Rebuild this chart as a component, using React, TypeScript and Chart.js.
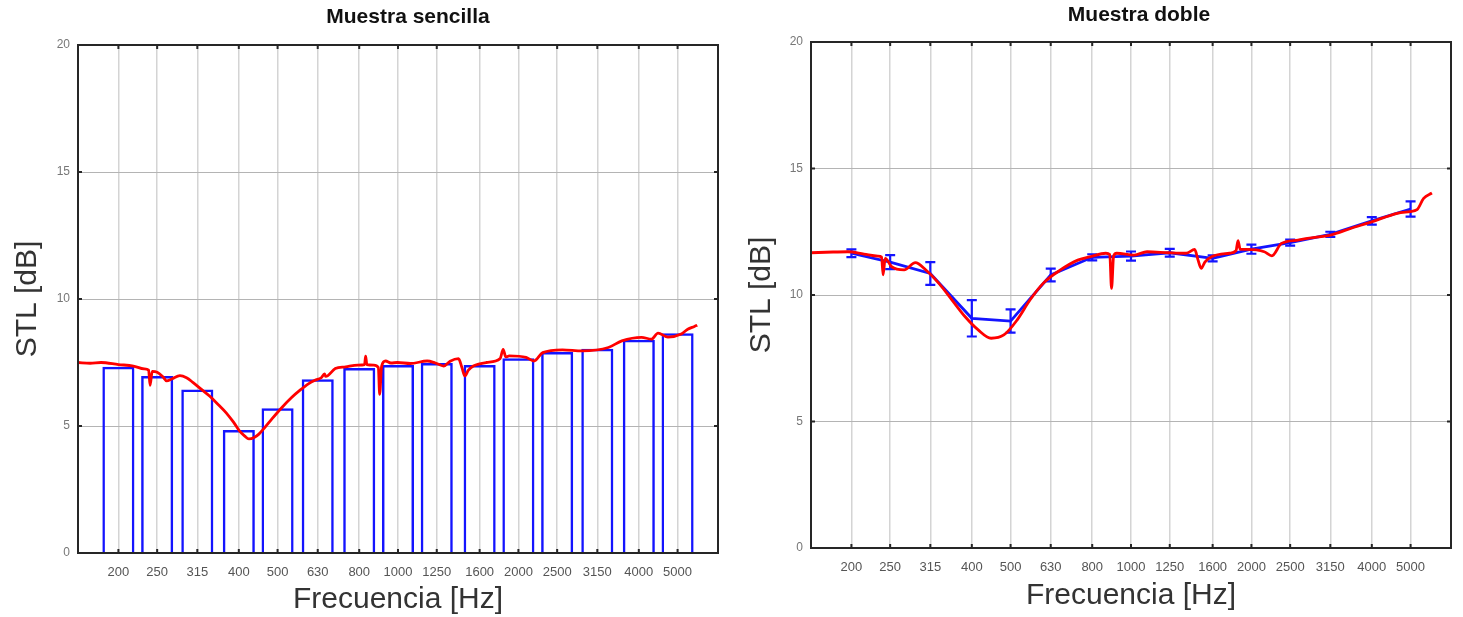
import React, { useEffect, useRef } from 'react';
import { Chart, registerables } from 'chart.js';

Chart.register(...registerables);

// ---------- data ----------
const bandFreqs = [200, 250, 315, 400, 500, 630, 800, 1000, 1250, 1600, 2000, 2500, 3150, 4000, 5000];
const tickLabels = ['200', '250', '315', '400', '500', '630', '800', '1000', '1250', '1600', '2000', '2500', '3150', '4000', '5000'];
const yTickValues = [0, 5, 10, 15, 20];
const freqMin = 158.5;
const freqMax = 6310;

// Muestra sencilla: third-octave band bars
const singleBands = [7.33, 6.97, 6.44, 4.84, 5.70, 6.84, 7.28, 7.40, 7.48, 7.40, 7.67, 7.91, 8.04, 8.40, 8.65];

// Muestra sencilla: narrow-band curve
const singleCurveFreq = [158.5, 170, 181, 200, 218, 232, 238, 240, 243, 250, 258, 264, 272, 285, 296, 307, 322, 338, 355, 372, 388, 401, 414, 424, 437, 449, 465, 484, 512, 542, 570, 597, 620, 643, 655, 660, 697, 740, 794, 825, 830, 836, 870, 893, 900, 910, 931, 960, 997, 1074, 1183, 1240, 1301, 1350, 1417, 1445, 1469, 1500, 1543, 1665, 1800, 1832, 1860, 1897, 2090, 2188, 2301, 2577, 2888, 3357, 3627, 4064, 4304, 4468, 4730, 5107, 5301, 5508, 5600];
const singleCurveStl = [7.50, 7.47, 7.50, 7.42, 7.36, 7.25, 7.20, 6.60, 7.15, 7.12, 6.95, 6.78, 6.85, 6.98, 6.90, 6.72, 6.45, 6.18, 5.85, 5.52, 5.15, 4.82, 4.60, 4.49, 4.55, 4.68, 4.95, 5.28, 5.72, 6.12, 6.42, 6.66, 6.80, 6.90, 7.05, 6.95, 7.26, 7.33, 7.40, 7.42, 7.75, 7.42, 7.40, 7.30, 6.25, 7.35, 7.56, 7.48, 7.50, 7.46, 7.56, 7.48, 7.36, 7.55, 7.65, 7.30, 6.97, 7.20, 7.36, 7.50, 7.65, 8.02, 7.72, 7.76, 7.70, 7.56, 7.89, 8.00, 7.96, 8.09, 8.35, 8.49, 8.42, 8.66, 8.50, 8.62, 8.81, 8.92, 8.97];

// Muestra doble: band means with error bars
const doubleMean = [11.65, 11.30, 10.85, 9.08, 8.97, 10.79, 11.49, 11.54, 11.67, 11.45, 11.81, 12.07, 12.40, 12.93, 13.40];
const doubleErr = [0.15, 0.28, 0.45, 0.72, 0.46, 0.25, 0.12, 0.18, 0.15, 0.12, 0.18, 0.12, 0.10, 0.15, 0.30];

// Muestra doble: narrow-band curve
const doubleCurveFreq = [158.5, 180, 196, 215, 233, 238, 240, 243, 252, 271, 289, 307, 331, 357, 385, 415, 447, 481, 519, 559, 603, 666, 736, 793, 865, 885, 894, 905, 921, 1018, 1097, 1243, 1374, 1443, 1470, 1498, 1530, 1595, 1762, 1830, 1852, 1875, 1947, 2153, 2250, 2378, 2616, 2762, 3157, 3542, 4013, 4630, 4987, 5190, 5390, 5654];
const doubleCurveStl = [11.67, 11.70, 11.71, 11.62, 11.54, 11.50, 10.80, 11.45, 11.12, 10.99, 11.28, 10.99, 10.46, 9.80, 9.14, 8.62, 8.29, 8.42, 9.01, 9.80, 10.46, 10.99, 11.38, 11.52, 11.65, 11.60, 10.26, 11.55, 11.65, 11.58, 11.71, 11.67, 11.65, 11.80, 11.40, 11.05, 11.30, 11.52, 11.65, 11.75, 12.15, 11.80, 11.80, 11.71, 11.55, 12.04, 12.17, 12.24, 12.37, 12.63, 12.90, 13.23, 13.30, 13.37, 13.82, 14.03];

// ---------- styling ----------
const FONT = '"Liberation Sans", Arial, Helvetica, sans-serif';
const RED = '#ff0000';
const BLUE = '#1414ff';

const framePlugin = {
  id: 'frame',
  afterDraw(chart: any, _args: any, opts: any) {
    const { ctx, chartArea: a, scales } = chart;
    ctx.save();
    ctx.strokeStyle = '#262626';
    ctx.lineWidth = 2;
    ctx.strokeRect(a.left, a.top, a.right - a.left, a.bottom - a.top);
    const tl = 4;
    ctx.beginPath();
    scales.x.ticks.forEach((t: any) => {
      const px = scales.x.getPixelForValue(t.value);
      ctx.moveTo(px, a.top); ctx.lineTo(px, a.top + tl);
      ctx.moveTo(px, a.bottom); ctx.lineTo(px, a.bottom - tl);
    });
    scales.y.ticks.forEach((t: any) => {
      const py = scales.y.getPixelForValue(t.value);
      ctx.moveTo(a.left, py); ctx.lineTo(a.left + tl, py);
      ctx.moveTo(a.right, py); ctx.lineTo(a.right - tl, py);
    });
    ctx.stroke();
    ctx.fillStyle = '#111';
    ctx.font = 'bold 21px ' + FONT;
    ctx.textAlign = 'center';
    ctx.textBaseline = 'middle';
    ctx.fillText(opts.text, opts.x, opts.y);
    ctx.restore();
  },
};

const errorBarPlugin = {
  id: 'errbars',
  afterDatasetDraw(chart: any, args: any, opts: any) {
    if (!opts || opts.datasetIndex !== args.index) return;
    const { ctx, scales } = chart;
    ctx.save();
    ctx.strokeStyle = BLUE;
    ctx.lineWidth = 2.2;
    ctx.beginPath();
    opts.x.forEach((f: number, i: number) => {
      const px = scales.x.getPixelForValue(f);
      const lo = scales.y.getPixelForValue(opts.y[i] - opts.err[i]);
      const hi = scales.y.getPixelForValue(opts.y[i] + opts.err[i]);
      ctx.moveTo(px, lo); ctx.lineTo(px, hi);
      ctx.moveTo(px - 5, lo); ctx.lineTo(px + 5, lo);
      ctx.moveTo(px - 5, hi); ctx.lineTo(px + 5, hi);
    });
    ctx.stroke();
    ctx.restore();
  },
};

function makeScales(yWidth: number, xHeight: number, yTitlePad: number, xTitlePad: number) {
  return {
    x: {
      type: 'logarithmic',
      min: freqMin,
      max: freqMax,
      offset: false,
      afterBuildTicks: (s: any) => { s.ticks = bandFreqs.map((v) => ({ value: v })); },
      afterFit: (s: any) => { s.height = xHeight; },
      grid: { color: '#d4d4d4', lineWidth: 1.5, drawTicks: false, offset: false },
      border: { display: false },
      ticks: {
        autoSkip: false,
        maxRotation: 0,
        minRotation: 0,
        padding: 12,
        color: '#555',
        font: { family: FONT, size: 13 },
        callback: (_v: any, i: number) => tickLabels[i],
      },
      title: {
        display: true,
        text: 'Frecuencia [Hz]',
        color: '#333',
        font: { family: FONT, size: 30, lineHeight: 1 },
        padding: { top: 0, bottom: xTitlePad },
      },
    },
    y: {
      type: 'linear',
      min: 0,
      max: 20,
      afterBuildTicks: (s: any) => { s.ticks = yTickValues.map((v) => ({ value: v })); },
      afterFit: (s: any) => { s.width = yWidth; },
      grid: { color: '#b4b4b4', lineWidth: 1, drawTicks: false },
      border: { display: false },
      ticks: { padding: 8, color: '#777', font: { family: FONT, size: 12 } },
      title: {
        display: true,
        text: 'STL [dB]',
        color: '#333',
        font: { family: FONT, size: 30, lineHeight: 1 },
        padding: { top: yTitlePad, bottom: 0 },
      },
    },
  };
}

function singleConfig(): any {
  return {
    type: 'bar',
    data: {
      datasets: [
        {
          type: 'line',
          order: 0,
          data: singleCurveFreq.map((f, i) => ({ x: f, y: singleCurveStl[i] })),
          borderColor: RED,
          borderWidth: 2.8,
          pointRadius: 0,
          cubicInterpolationMode: 'monotone',
        },
        {
          type: 'bar',
          order: 1,
          data: bandFreqs.map((f, i) => ({ x: f, y: singleBands[i] })),
          backgroundColor: 'rgba(0,0,0,0)',
          borderColor: BLUE,
          borderWidth: 2.5,
          barPercentage: 0.9,
          categoryPercentage: 0.92,
          grouped: false,
        },
      ],
    },
    options: {
      responsive: true,
      maintainAspectRatio: false,
      animation: false,
      events: [],
      layout: { padding: { top: 45, right: 17, left: 0, bottom: 0 } },
      plugins: {
        legend: { display: false },
        tooltip: { enabled: false },
        frame: { text: 'Muestra sencilla', x: 408, y: 17 },
        errbars: false,
      },
      scales: makeScales(78, 64, 13, 2),
    },
    plugins: [framePlugin, errorBarPlugin],
  };
}

function doubleConfig(): any {
  return {
    type: 'line',
    data: {
      datasets: [
        {
          order: 0,
          data: doubleCurveFreq.map((f, i) => ({ x: f, y: doubleCurveStl[i] })),
          borderColor: RED,
          borderWidth: 2.8,
          pointRadius: 0,
          cubicInterpolationMode: 'monotone',
        },
        {
          order: 1,
          data: bandFreqs.map((f, i) => ({ x: f, y: doubleMean[i] })),
          borderColor: BLUE,
          borderWidth: 2.8,
          pointRadius: 0,
          tension: 0,
        },
      ],
    },
    options: {
      responsive: true,
      maintainAspectRatio: false,
      animation: false,
      events: [],
      layout: { padding: { top: 42, right: 12, left: 0, bottom: 0 } },
      plugins: {
        legend: { display: false },
        tooltip: { enabled: false },
        frame: { text: 'Muestra doble', x: 404, y: 15 },
        errbars: { datasetIndex: 1, x: bandFreqs, y: doubleMean, err: doubleErr },
      },
      scales: makeScales(76, 69, 12, 6),
    },
    plugins: [framePlugin, errorBarPlugin],
  };
}

function ChartBox({ left, width, build }: { left: number; width: number; build: () => any }) {
  const ref = useRef<HTMLCanvasElement>(null);
  useEffect(() => {
    const chart = new Chart(ref.current as HTMLCanvasElement, build());
    return () => chart.destroy();
  }, []);
  return (
    <div style={{ position: 'absolute', left, top: 0, width, height: 617 }}>
      <canvas ref={ref} />
    </div>
  );
}

export default function App() {
  return (
    <div style={{ position: 'absolute', left: 0, top: 0, width: 1463, height: 617, background: '#fff' }}>
      <ChartBox left={0} width={735} build={singleConfig} />
      <ChartBox left={735} width={728} build={doubleConfig} />
    </div>
  );
}
